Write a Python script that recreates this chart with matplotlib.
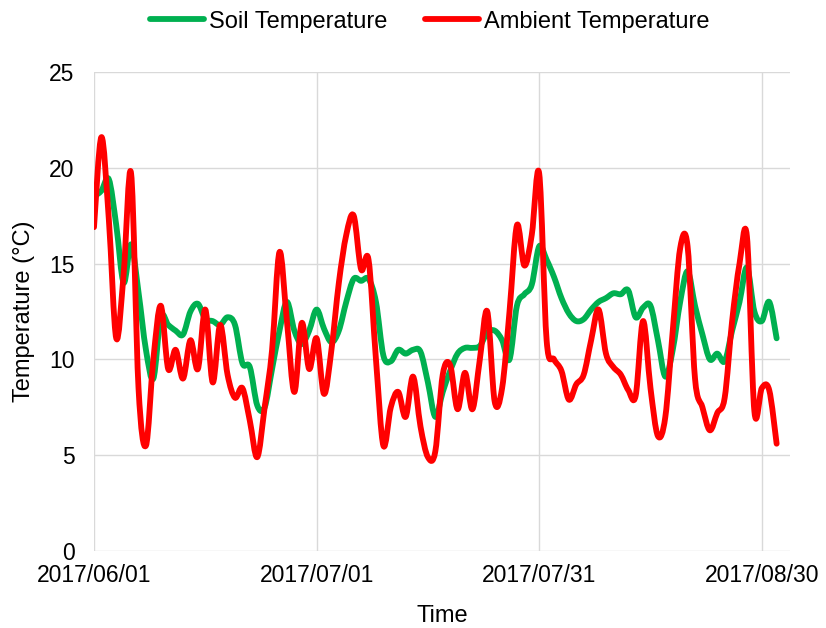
import numpy as np
import pandas as pd
import matplotlib
matplotlib.use('Agg')
import matplotlib.pyplot as plt
import matplotlib.dates as mdates
from matplotlib.path import Path
from matplotlib.patches import PathPatch

# daily values, 2017/06/01 .. 2017/09/01
start = '2017-06-01'
soil = [18.5, 18.8, 19.4, 17.0, 14.0, 16.0, 13.5, 10.5, 9.0, 12.2,
        11.8, 11.5, 11.3, 12.5, 12.9, 12.1, 12.0, 11.8, 12.2, 11.8,
        9.8, 9.6, 7.6, 7.5, 9.5, 11.5, 13.0, 11.5, 10.8, 11.5,
        12.6, 11.6, 10.9, 11.5, 13.0, 14.2, 14.1, 14.2, 13.0, 10.2,
        9.9, 10.5, 10.3, 10.5, 10.4, 8.8, 7.0, 8.3, 9.4, 10.3,
        10.6, 10.6, 10.7, 11.4, 11.5, 11.0, 10.0, 12.8, 13.4, 13.9,
        15.9, 15.2, 14.3, 13.2, 12.4, 12.0, 12.1, 12.6, 13.0, 13.2,
        13.45, 13.4, 13.6, 12.2, 12.7, 12.8, 11.0, 9.1, 10.5, 13.0,
        14.6, 12.8, 11.3, 10.0, 10.3, 9.9, 11.5, 13.0, 14.8, 12.5,
        12.0, 13.0, 11.1]
ambient = [16.9, 21.6, 17.3, 11.1, 14.5, 19.7, 8.5, 5.5, 10.0, 12.8,
           9.5, 10.5, 9.0, 11.0, 9.5, 12.6, 8.8, 11.8, 9.2, 8.0,
           8.5, 6.8, 4.9, 7.5, 10.5, 15.6, 12.0, 8.3, 11.9, 9.5,
           11.1, 8.2, 10.5, 14.0, 16.5, 17.5, 14.7, 15.2, 10.0, 5.5,
           7.5, 8.3, 7.0, 9.1, 6.5, 4.9, 5.2, 9.2, 9.7, 7.4,
           9.3, 7.4, 10.0, 12.5, 7.8, 8.5, 12.5, 17.0, 14.9, 16.5,
           19.7, 11.0, 10.0, 9.4, 7.9, 8.7, 9.2, 11.0, 12.6, 10.3,
           9.6, 9.2, 8.4, 8.1, 12.0, 8.5, 6.0, 7.0, 11.5, 15.8,
           15.9, 9.0, 7.5, 6.3, 7.2, 8.0, 12.0, 15.0, 16.4, 7.3,
           8.5, 8.4, 5.6]
tick_dates = ['2017-06-01', '2017-07-01', '2017-07-31', '2017-08-30']

dates = pd.date_range(start, periods=len(soil), freq='D')
xnum = mdates.date2num(dates)


# smoothed line like Excel: cubic bezier segments through the points
def smooth_path(x, y):
    x = np.asarray(x, float)
    y = np.asarray(y, float)
    xp = np.r_[x[0], x, x[-1]]
    yp = np.r_[y[0], y, y[-1]]
    verts = [(x[0], y[0])]
    codes = [Path.MOVETO]
    for i in range(len(x) - 1):
        c1 = (x[i] + (xp[i + 2] - xp[i]) / 6, y[i] + (yp[i + 2] - yp[i]) / 6)
        c2 = (x[i + 1] - (xp[i + 3] - xp[i + 1]) / 6, y[i + 1] - (yp[i + 3] - yp[i + 1]) / 6)
        verts += [c1, c2, (x[i + 1], y[i + 1])]
        codes += [Path.CURVE4] * 3
    return Path(verts, codes)


plt.rcParams['font.family'] = ['Liberation Sans', 'DejaVu Sans']

fig = plt.figure(figsize=(8.26, 6.28), dpi=100)
ax = fig.add_axes([0.1138, 0.1226, 0.8426, 0.7628])

for vals, col, lab in [(soil, '#00B050', 'Soil Temperature'),
                       (ambient, '#FF0000', 'Ambient Temperature')]:
    ax.add_patch(PathPatch(smooth_path(xnum, vals), fill=False, edgecolor=col,
                           lw=4.2, capstyle='round', joinstyle='round'))
    ax.plot([], [], color=col, lw=4.2, solid_capstyle='round', label=lab)

# axes
ax.set_ylim(0, 25)
ax.set_yticks(range(0, 26, 5))
ax.set_xlim(dates[0], dates[0] + pd.Timedelta(days=93.8))
ax.set_xticks(pd.to_datetime(tick_dates))
ax.xaxis.set_major_formatter(mdates.DateFormatter('%Y/%m/%d'))

for s in ax.spines.values():
    s.set_visible(False)
ax.grid(True, color='#D9D9D9', lw=1.0)
ax.set_axisbelow(True)
ax.tick_params(length=0, labelsize=16.5)
ax.tick_params(axis='y', pad=14)
ax.tick_params(axis='x', pad=9)

ax.set_xlabel('Time', fontsize=17, labelpad=13)
ax.set_ylabel('Temperature (°C)', fontsize=17, labelpad=10)

fig.legend(loc='upper center', bbox_to_anchor=(0.52, 1.017), ncol=2, frameon=False,
           fontsize=17, handlelength=2.3, handletextpad=0.2, columnspacing=1.6)

fig.savefig('out.png', dpi=100)
